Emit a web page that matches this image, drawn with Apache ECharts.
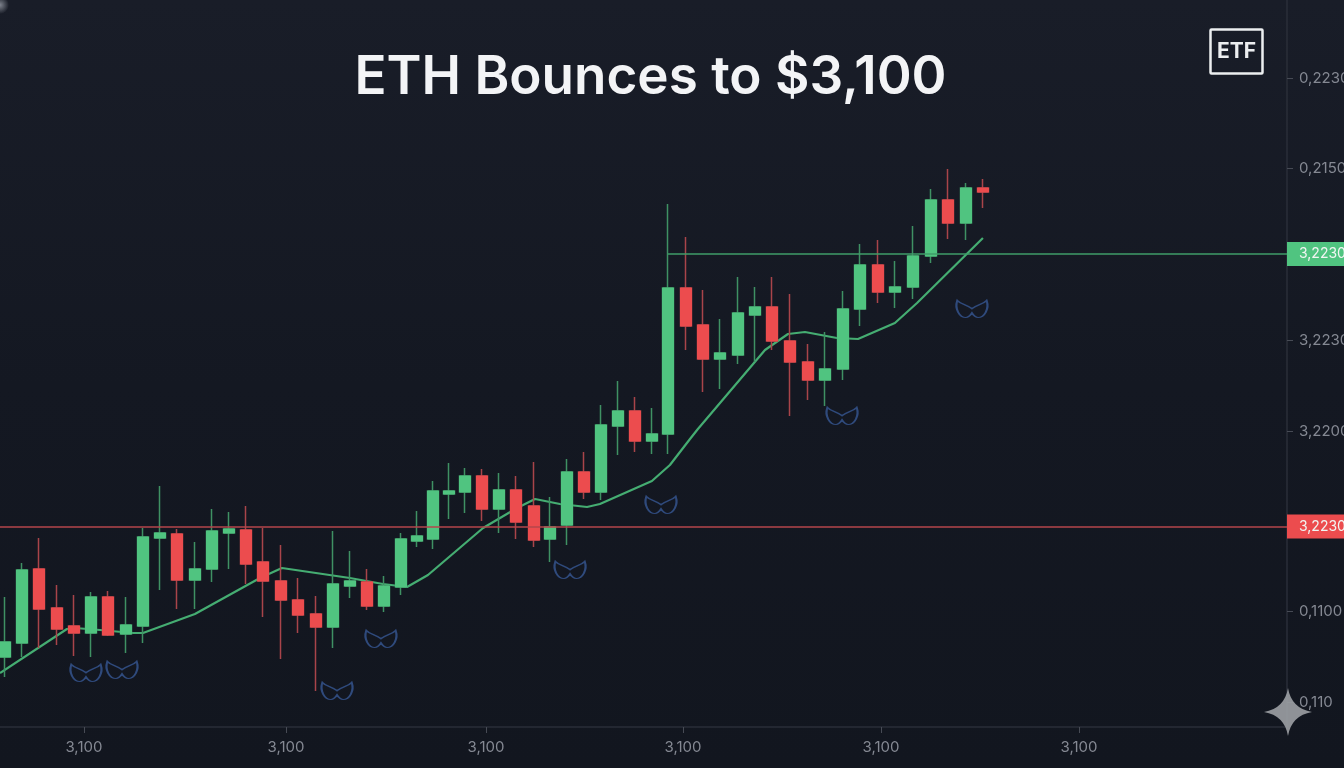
<!DOCTYPE html>
<html>
<head>
<meta charset="utf-8">
<title>ETH Bounces to $3,100</title>
<script src="https://cdn.jsdelivr.net/npm/echarts@6/dist/echarts.min.js"></script>
<style>
html, body { margin: 0; height: 100%; background: #141822; overflow: hidden; }
#main { width: 1344px; height: 768px; }
</style>
</head>
<body>
<div id="main"></div>
<script>
// bar positions are a little uneven in the picture, so they are kept per bar
const barX = [0,0.99,1.98,3.03,4.02,5.01,6,7.05,8.04,9.03,10.02,11.07,12.06,13.05,14.04,15.03,16.08,17.07,18.12,19.11,20.1,21.1,22.09,23.08,24.01,24.94,25.87,26.81,27.8,28.79,29.78,30.83,31.76,32.75,33.74,34.73,35.72,36.71,37.7,38.64,39.69,40.68,41.67,42.72,43.71,44.7,45.75,46.79,47.79,48.83,49.83,50.87,51.86,52.91,53.96,54.95,56,56.99]
// candles, one price per bar (about 1 dollar per pixel on this scale)
const opens = [2870,2884,2958,2919,2901,2894,2930,2893,2901,2989,2993,2947,2958,2994,2997,2965,2946,2927,2913,2900,2941,2945,2921,2940,2986,2988,3033,3035,3051,3018,3037,3021,2988,3002,3055,3035,3101,3116,3086,3093,3239,3202,3168,3172,3212,3220,3186,3165,3147,3158,3218,3262,3235,3240,3271,3327,3304,3339]
const closes = [2885,2957,2918,2898,2894,2930,2892,2902,2990,2994,2947,2958,2996,2998,2963,2946,2927,2912,2900,2943,2946,2921,2941,2988,2991,3036,3036,3051,3018,3037,3005,2987,3000,3055,3035,3102,3116,3086,3093,3239,3201,3168,3174,3214,3220,3186,3165,3147,3158,3218,3262,3235,3240,3271,3327,3304,3339,3335]
const lows = [2850,2870,2879,2882,2871,2870,2891,2874,2884,2937,2918,2918,2945,2958,2943,2910,2868,2894,2836,2879,2929,2917,2915,2932,2980,2978,3008,3014,3006,2994,2988,2980,2965,2982,3028,3027,3072,3075,3073,3073,3177,3135,3138,3163,3165,3177,3111,3127,3121,3147,3201,3224,3219,3228,3264,3288,3287,3319]
const highs = [2930,2964,2989,2942,2932,2935,2936,2930,2999,3041,2998,2985,3018,3015,3021,2999,2982,2949,2931,2996,2976,2958,2951,2994,3016,3046,3064,3059,3058,3054,3051,3065,3030,3068,3075,3122,3146,3130,3119,3323,3290,3237,3208,3250,3240,3250,3233,3183,3195,3236,3283,3287,3266,3301,3338,3358,3344,3348]

// moving average line, read vertex by vertex
const maX = [-0.29,3.61,4.08,5.54,7.46,8.04,11.07,14.86,16.14,20.1,22.03,23.43,24.65,27.86,29.84,30.89,32.34,33.92,34.67,37.7,38.75,39.92,40.38,44.29,45.63,46.62,48.48,49.71,51.86,53.15,56.99]
const maY = [2854,2898,2899,2897,2894,2894,2913,2949,2959,2949,2943,2940,2952,2999,3019,3028,3023,3020,3023,3046,3062,3088,3098,3177,3193,3195,3189,3188,3204,3224,3289]

// little blue wing marks under the dips
const wingX = [4.72,6.82,19.35,21.91,32.93,38.23,48.78,56.35]
const wingY = [2854,2857,2836,2888,2957,3022,3111,3218]

const xTicks = [4.6,16.38,28.03,39.51,51.05,62.59]
const xTickLabels = ["3,100","3,100","3,100","3,100","3,100","3,100"]
const yTicks = [2825,2916,3096,3187,3359,3449]
const yTickLabels = ["0,110","0,1100","3,2200","3,2230","0,2150","0,2230"]

const resistance = 3273
const resistanceStart = 38.64
const support = 3000.5
const levelLabel = "3,2230"

const GREEN = "#50c480"
const RED = "#ec4c4e"
const FONT = "Inter"
const wingPath = "path://M4 0C14 10 32 12 45 22C58 12 76 10 86 0C94 22 80 46 62 46C54 46 49 40 45 34C41 40 36 46 28 46C10 46 -4 22 4 0Z"
const starPath = "M24 0Q27.5 20.5 48 24Q27.5 27.5 24 48Q20.5 27.5 0 24Q20.5 20.5 24 0Z"

echarts.graphic.registerShape("sparkle", echarts.graphic.extendPath(starPath, {}))

let wickData = opens.map((o, i) => [barX[i], o, closes[i], lows[i], highs[i]])
let bodyData = opens.map((o, i) => [barX[i], o, closes[i], Math.min(o, closes[i]), Math.max(o, closes[i])])

function levelLine(from, price, color, tagColor) {
    return {
        silent: true,
        symbol: "none",
        animation: false,
        lineStyle: { color: color, width: 1.5, type: "solid" },
        data: [[
            { coord: [from, price] },
            {
                coord: [74.71, price],
                label: {
                    show: true,
                    position: "end",
                    distance: 0,
                    formatter: levelLabel,
                    color: "#f1f5f2",
                    fontFamily: FONT,
                    fontSize: 14,
                    backgroundColor: tagColor,
                    width: 45,
                    height: 14,
                    lineHeight: 14,
                    padding: [5, 0, 5, 12],
                    align: "left"
                }
            }
        ]]
    }
}

var myChart = echarts.init(document.getElementById("main"), null, { renderer: "canvas" })
var option = {
    animation: false,
    backgroundColor: new echarts.graphic.LinearGradient(0, 0, 0, 1, [
        { offset: 0, color: "#191d28" },
        { offset: 0.5, color: "#141822" },
        { offset: 1, color: "#12161f" }
    ]),
    title: {
        text: "ETH Bounces to $3,100",
        left: 645.5,
        top: 47,
        textAlign: "center",
        textStyle: { color: "#f3f4f6", fontFamily: FONT, fontSize: 53, fontWeight: 600 }
    },
    grid: { left: 0, right: 57, top: 0, bottom: 41, outerBoundsMode: "none" },
    xAxis: {
        type: "value",
        min: -0.29,
        max: 74.71,
        splitLine: { show: false },
        axisLine: { onZero: false, lineStyle: { color: "#2a2e38", width: 1.5 } },
        axisTick: { length: 6, lineStyle: { color: "#474b55" }, customValues: xTicks },
        axisLabel: {
            color: "#858993",
            fontFamily: FONT,
            fontSize: 15,
            margin: 13,
            customValues: xTicks,
            formatter: function (v) { return xTickLabels[xTicks.indexOf(v)] }
        }
    },
    yAxis: {
        type: "value",
        position: "right",
        min: 2800,
        max: 3527,
        splitLine: { show: false },
        axisLine: { show: true, onZero: false, lineStyle: { color: "#2a2e38", width: 1.5 } },
        axisTick: { show: true, length: 6, lineStyle: { color: "#474b55" }, customValues: yTicks },
        axisLabel: {
            color: "#858993",
            fontFamily: FONT,
            fontSize: 15,
            margin: 12,
            customValues: yTicks,
            formatter: function (v) { return yTickLabels[yTicks.indexOf(v)] }
        }
    },
    series: [
        {
            name: "MA",
            type: "line",
            z: 2,
            symbol: "none",
            data: maX.map((x, i) => [x, maY[i]]),
            lineStyle: { color: "#45ad72", width: 2.2 }
        },
        {
            name: "wicks",
            type: "candlestick",
            z: 3,
            barWidth: 12,
            data: wickData,
            itemStyle: {
                color: "transparent",
                color0: "transparent",
                borderColor: "#3f9163",
                borderColor0: "#a9444a",
                borderWidth: 1.5
            }
        },
        {
            name: "bodies",
            type: "candlestick",
            z: 4,
            barWidth: 11,
            data: bodyData,
            itemStyle: {
                color: GREEN,
                color0: RED,
                borderColor: GREEN,
                borderColor0: RED,
                borderWidth: 1
            },
            markLine: levelLine(resistanceStart, resistance, "#3f9c68", GREEN)
        },
        {
            name: "support",
            type: "line",
            z: 5,
            data: [],
            markLine: levelLine(-0.29, support, "#b5464b", RED)
        },
        {
            name: "wings",
            type: "scatter",
            z: 3,
            symbol: wingPath,
            symbolSize: [31, 17],
            data: wingX.map((x, i) => [x, wingY[i]]),
            itemStyle: { color: "transparent", borderColor: "#2f4a7c", borderWidth: 1.6, opacity: 1 }
        }
    ],
    graphic: [
        {
            type: "rect",
            shape: { x: 1210.5, y: 29.5, width: 52, height: 44, r: 1 },
            style: { fill: "transparent", stroke: "#eceef0", lineWidth: 2.5 }
        },
        {
            type: "text",
            x: 1236.5,
            y: 52,
            style: {
                text: "ETF",
                fill: "#eceef0",
                font: "700 21px Inter",
                textAlign: "center",
                textVerticalAlign: "middle"
            }
        },
        {
            type: "sparkle",
            x: 1264,
            y: 688,
            style: { fill: "#9a9da2", opacity: 0.92 },
            z: 10
        },
        {
            type: "circle",
            shape: { cx: 0, cy: 5, r: 9 },
            style: {
                fill: new echarts.graphic.RadialGradient(0.5, 0.5, 0.5, [
                    { offset: 0, color: "rgba(170,175,185,0.7)" },
                    { offset: 1, color: "rgba(170,175,185,0)" }
                ])
            }
        }
    ]
}
myChart.setOption(option)
</script>
</body>
</html>
